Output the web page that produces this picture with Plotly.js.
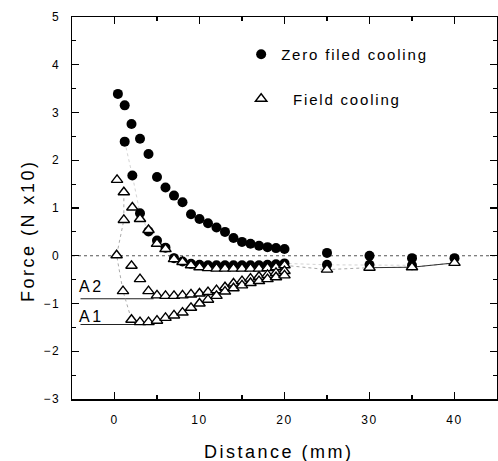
<!DOCTYPE html>
<html>
<head>
<meta charset="utf-8">
<script src="https://cdn.plot.ly/plotly-3.0.1.min.js"></script>
<style>
html,body{margin:0;padding:0;background:#fff;}
#chart{width:498px;height:461px;}
.xtick text,.ytick text{letter-spacing:1.5px;}
.annotation-text{letter-spacing:2.5px;}
.legendtext{letter-spacing:1.8px;}
</style>
</head>
<body>
<div id="chart"></div>
<script>
// Zero field cooling (filled circles)
const zfcApproachX = [40,35,30,25,20,19,18,17,16,15,14,13,12,11,10,9,8,7,6,5,4,3,2,1.2,0.4];
const zfcApproachY = [-0.05,-0.05,0.0,0.06,0.14,0.16,0.18,0.21,0.25,0.29,0.37,0.5,0.59,0.68,0.77,0.87,1.12,1.26,1.43,1.65,2.13,2.45,2.76,3.15,3.39];
const zfcReturnX = [1.2,2.1,3,4,5,6,7,8,9,10,11,12,13,14,15,16,17,18,19,20,25,30,35];
const zfcReturnY = [2.39,1.68,0.89,0.51,0.32,0.17,-0.05,-0.12,-0.17,-0.19,-0.2,-0.2,-0.2,-0.2,-0.2,-0.2,-0.2,-0.19,-0.18,-0.16,-0.19,-0.19,-0.2];

// Field cooling (open triangles)
const fcApproachX = [0.3,1.1,2.1,3,4,5,6,7,8,9,10,11,12,13,14,15,16,17,18,19,20];
const fcApproachY = [1.59,1.33,1.01,0.77,0.54,0.25,0.14,-0.07,-0.13,-0.2,-0.24,-0.26,-0.27,-0.27,-0.27,-0.27,-0.27,-0.27,-0.26,-0.24,-0.2];
const fcSecondX = [1.1,0.25,2,3];
const fcSecondY = [0.75,0.01,-0.21,-0.49];
const fcA2X = [1,4,5,6,7,8,9,10,11,12,13,14,15,16,17,18,19,20];
const fcA2Y = [-0.74,-0.74,-0.83,-0.84,-0.84,-0.83,-0.81,-0.79,-0.76,-0.72,-0.66,-0.58,-0.53,-0.48,-0.44,-0.40,-0.36,-0.32];
const fcA1X = [2,3,4,5,6,7,8,9,10,11,12,13,14,15,16,17,18,19,20];
const fcA1Y = [-1.34,-1.39,-1.39,-1.36,-1.3,-1.25,-1.19,-1.09,-1.0,-0.92,-0.84,-0.75,-0.68,-0.62,-0.57,-0.53,-0.49,-0.45,-0.41];
const fcFarX = [20,25,30,35,40];
const fcFarY = [-0.2,-0.29,-0.25,-0.24,-0.15];

// Guide lines
const fcGuideX = [1.1,1.1,0.25,1,2];
const fcGuideY = [1.33,0.75,0.01,-0.74,-1.34];
const zeroLineX = [-5,45];
const zeroLineY = [0,0];
const a2LineX = [-4,4.6];
const a2LineY = [-0.9,-0.9];
const a1LineX = [-4,2.5];
const a1LineY = [-1.44,-1.44];

const xTickVals = [0,10,20,30,40];
const yTickVals = [-3,-2,-1,0,1,2,3,4,5];

const circ = {symbol:'circle', size:10, color:'#000', line:{width:0}};
const tri = {symbol:'triangle-up', size:10, color:'#fff', line:{color:'#000', width:1.4}};

const traces = [
  {x:zeroLineX, y:zeroLineY, mode:'lines', line:{color:'#555', width:1, dash:'dot'}, showlegend:false, hoverinfo:'skip'},
  {x:a2LineX, y:a2LineY, mode:'lines', line:{color:'#222', width:1.2}, showlegend:false},
  {x:a1LineX, y:a1LineY, mode:'lines', line:{color:'#222', width:1.2}, showlegend:false},
  {x:fcGuideX, y:fcGuideY, mode:'lines', line:{color:'#aaa', width:1, dash:'dot'}, showlegend:false},
  {x:zfcReturnX, y:zfcReturnY, mode:'lines', line:{color:'#d4d4d4', width:1, dash:'dot'}, showlegend:false},
  {x:fcFarX, y:fcFarY, mode:'lines', line:{color:'#aaa', width:1, dash:'dot'}, showlegend:false},
  {x:fcFarX.slice(2), y:fcFarY.slice(2), mode:'lines', line:{color:'#333', width:1}, showlegend:false},
  {x:zfcApproachX, y:zfcApproachY, mode:'markers', marker:circ, name:'Zero filed cooling', legendgroup:'a'},
  {x:zfcReturnX, y:zfcReturnY, mode:'markers', marker:circ, showlegend:false, legendgroup:'a'},
  {x:fcApproachX, y:fcApproachY, mode:'markers', marker:tri, name:'\u00a0\u00a0Field cooling', legendgroup:'b'},
  {x:fcSecondX, y:fcSecondY, mode:'markers', marker:tri, showlegend:false, legendgroup:'b'},
  {x:fcA2X, y:fcA2Y, mode:'markers', marker:tri, showlegend:false, legendgroup:'b'},
  {x:fcA1X, y:fcA1Y, mode:'markers', marker:tri, showlegend:false, legendgroup:'b'},
  {x:fcFarX.slice(1), y:fcFarY.slice(1), mode:'markers', marker:tri, showlegend:false, legendgroup:'b'}
];

const fontFam = '"Liberation Sans", Arial, sans-serif';
const axisCommon = {
  showgrid:false, zeroline:false, showline:true, linecolor:'#000', linewidth:1.5,
  mirror:'ticks', ticks:'inside', ticklen:7, tickwidth:1.3, tickcolor:'#000',
  tickfont:{family:fontFam, size:12, color:'#000'}
};

const layout = {
  width:498, height:461,
  margin:{l:72, r:1, t:17, b:62},
  paper_bgcolor:'#fff', plot_bgcolor:'#fff',
  font:{family:fontFam, color:'#000'},
  showlegend:true,
  legend:{x:0.398, y:0.945, xanchor:'left', yanchor:'top', bgcolor:'rgba(0,0,0,0)',
          font:{family:fontFam, size:15, color:'#000'}, traceorder:'grouped', tracegroupgap:22},
  xaxis:Object.assign({}, axisCommon, {range:[-5,45], tickvals:xTickVals, ticklabelstandoff:9,
         minor:{dtick:5, tick0:0, ticks:'inside', ticklen:4, tickwidth:1.2, tickcolor:'#000'}}),
  yaxis:Object.assign({}, axisCommon, {range:[-3,5], tickvals:yTickVals, ticklabelstandoff:8,
         minor:{dtick:0.5, tick0:0, ticks:'inside', ticklen:4, tickwidth:1.2, tickcolor:'#000'}}),
  annotations:[
    {text:'Distance (mm)', xref:'paper', yref:'paper', x:0.487, y:-0.139, xanchor:'center', yanchor:'middle',
     showarrow:false, font:{family:fontFam, size:18, color:'#000'}},
    {text:'Force (N x10)', xref:'paper', yref:'paper', x:-0.1035, y:0.44, xanchor:'center', yanchor:'middle',
     textangle:-90, showarrow:false, font:{family:fontFam, size:18, color:'#000'}},
    {text:'A2', x:-2.7, y:-0.65, xref:'x', yref:'y', showarrow:false, font:{family:fontFam, size:16, color:'#000'}},
    {text:'A1', x:-2.7, y:-1.27, xref:'x', yref:'y', showarrow:false, font:{family:fontFam, size:16, color:'#000'}}
  ]
};

Plotly.newPlot('chart', traces, layout, {staticPlot:true, displayModeBar:false});
</script>
</body>
</html>
